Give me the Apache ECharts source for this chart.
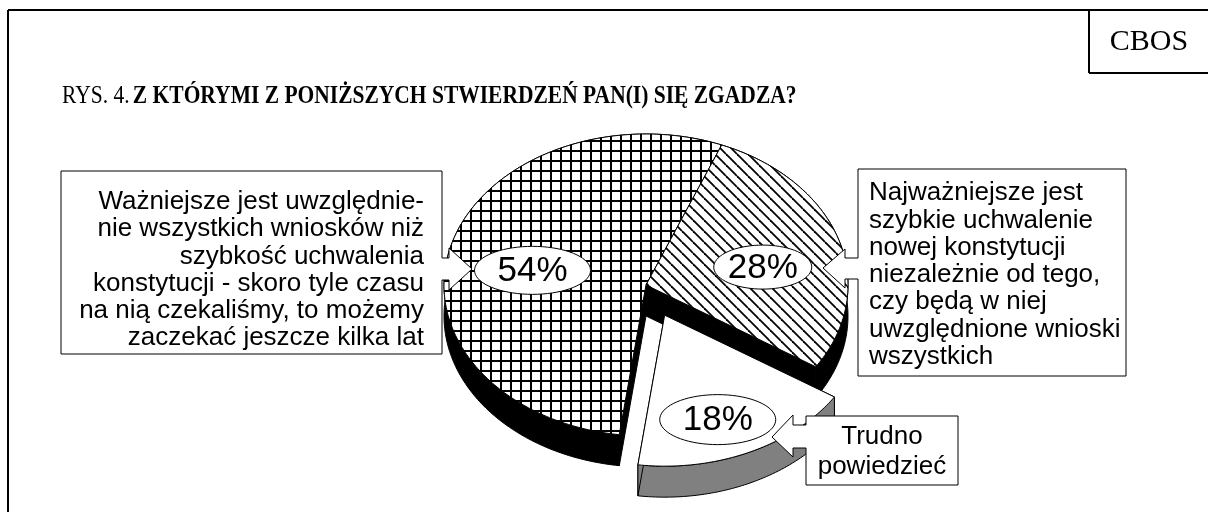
<!DOCTYPE html>
<html>
<head>
<meta charset="utf-8">
<script src="https://cdn.jsdelivr.net/npm/echarts@6/dist/echarts.min.js"></script>
<style>
  html, body { margin: 0; padding: 0; background: #fff; }
  #main { width: 1208px; height: 512px; }
</style>
</head>
<body>
<div id="main"></div>
<script>
// dane wykresu
const categories = [
    'Ważniejsze jest uwzględnie-\nnie wszystkich wniosków niż\nszybkość uchwalenia\nkonstytucji - skoro tyle czasu\nna nią czekaliśmy, to możemy\nzaczekać jeszcze kilka lat',
    'Najważniejsze jest\nszybkie uchwalenie\nnowej konstytucji\nniezależnie od tego,\nczy będą w niej\nuwzględnione wnioski\nwszystkich',
    'Trudno\npowiedzieć'
];
const values = [54, 28, 18];
const valueLabels = ['54%', '28%', '18%'];
const titlePrefix = 'RYS. 4.';
const titleText = 'Z KTÓRYMI Z PONIŻSZYCH STWIERDZEŃ PAN(I) SIĘ ZGADZA?';
const sourceText = 'CBOS';

// geometria tortu 3D (elipsa + grubość)
const pie = { cx: 646, cy: 285, rx: 202, ry: 151, depth: 31, startAngle: -172.4 };

// wygląd wycinków
const sliceStyle = [
    { top: 'grid', side: '#000', explode: 0, labelR: 0.57, labelShift: -5, lrx: 58, lry: 24 },
    { top: 'hatch', side: '#000', explode: 0, labelR: 0.59, labelShift: 6, lrx: 49, lry: 22 },
    { top: '#fff', side: '#808080', explode: 0.22, labelR: 0.74, labelShift: 4, lrx: 58, lry: 25 }
];

const SANS = '"Liberation Sans", Arial, sans-serif';
const SERIF = '"Liberation Serif", "Times New Roman", serif';
const BOX_FONT = '26px ' + SANS;

// wzory wypełnienia (kratka i ukośne linie)
function makePattern(kind) {
    const c = document.createElement('canvas');
    const ctx = c.getContext('2d');
    if (kind === 'grid') {
        c.width = 10; c.height = 10;
        ctx.fillStyle = '#fff'; ctx.fillRect(0, 0, 10, 10);
        ctx.fillStyle = '#000';
        ctx.fillRect(0, 0, 10, 2);
        ctx.fillRect(0, 0, 2, 10);
    } else {
        const s = 11;
        c.width = s; c.height = s;
        ctx.fillStyle = '#fff'; ctx.fillRect(0, 0, s, s);
        ctx.strokeStyle = '#000'; ctx.lineWidth = 1.8;
        for (let k = -1; k <= 1; k++) {
            ctx.beginPath();
            ctx.moveTo(0, k * s);
            ctx.lineTo(s, s + k * s);
            ctx.stroke();
        }
    }
    return { image: c, repeat: 'repeat' };
}
const patterns = { grid: makePattern('grid'), hatch: makePattern('hatch') };

const rad = d => d * Math.PI / 180;

function renderItem(params, api) {
    const i = params.dataIndex;
    const st = sliceStyle[i];
    const total = values.reduce((s, v) => s + v, 0);
    let acc = 0;
    for (let k = 0; k < i; k++) acc += values[k];
    const a0 = pie.startAngle + acc / total * 360;
    const a1 = a0 + api.value(0) / total * 360;
    const mid = (a0 + a1) / 2;
    const ox = st.explode * pie.rx * Math.sin(rad(mid));
    const oy = -st.explode * pie.ry * Math.cos(rad(mid));
    const pt = (t, r, dy) => [
        pie.cx + ox + r * pie.rx * Math.sin(rad(t)),
        pie.cy + oy - r * pie.ry * Math.cos(rad(t)) + (dy || 0)
    ];
    const arc = (dy) => {
        const pts = [];
        const n = Math.max(2, Math.ceil(a1 - a0));
        for (let j = 0; j <= n; j++) pts.push(pt(a0 + (a1 - a0) * j / n, 1, dy));
        return pts;
    };
    const zBase = st.explode ? 2 : 0;
    const c0 = pt(0, 0), c1 = pt(0, 0, pie.depth);
    const sideStyle = { fill: st.side, stroke: '#000', lineWidth: 1 };
    const children = [];
    // ściana zewnętrzna
    children.push({
        type: 'polygon', z2: 1 + zBase,
        shape: { points: arc(0).concat(arc(pie.depth).reverse()) },
        style: sideStyle
    });
    // ściany promieniowe
    [a0, a1].forEach(t => {
        children.push({
            type: 'polygon', z2: 1 + zBase,
            shape: { points: [c0, pt(t, 1), pt(t, 1, pie.depth), c1] },
            style: sideStyle
        });
    });
    // wierzch
    children.push({
        type: 'polygon', z2: 3 + zBase,
        shape: { points: [c0].concat(arc(0)) },
        style: { fill: patterns[st.top] || st.top, stroke: '#000', lineWidth: 1 }
    });
    // etykieta w elipsie
    const lp = pt(mid + st.labelShift, st.labelR);
    const ell = [];
    for (let j = 0; j < 72; j++) {
        const t = j / 72 * Math.PI * 2;
        ell.push([lp[0] + st.lrx * Math.cos(t), lp[1] + st.lry * Math.sin(t)]);
    }
    children.push({
        type: 'polygon', z2: 10,
        shape: { points: ell },
        style: { fill: '#fff', stroke: '#000', lineWidth: 1 }
    });
    children.push({
        type: 'text', z2: 11, x: lp[0], y: lp[1] + 1,
        style: {
            text: valueLabels[i], font: '35px ' + SANS, fill: '#000',
            align: 'center', verticalAlign: 'middle'
        }
    });
    return { type: 'group', children: children };
}

// strzałki od ramek do etykiet
function arrow(pts, edgeX) {
    const fillPts = pts.map(p => p.slice());
    fillPts[0][0] = edgeX + (pts[1][0] > edgeX ? -2 : 2);
    fillPts[fillPts.length - 1][0] = fillPts[0][0];
    return [
        { type: 'polygon', z: 50, shape: { points: fillPts }, style: { fill: '#fff' } },
        { type: 'polyline', z: 51, shape: { points: pts }, style: { stroke: '#000', lineWidth: 1, fill: null } }
    ];
}

const boxStyle = { fill: '#fff', stroke: '#000', lineWidth: 1 };
const graphics = [
    // ramka zewnętrzna
    { type: 'line', z: 40, shape: { x1: 8, y1: 10, x2: 1208, y2: 10 }, style: { stroke: '#000', lineWidth: 2 } },
    { type: 'line', z: 40, shape: { x1: 8, y1: 10, x2: 8, y2: 512 }, style: { stroke: '#000', lineWidth: 2 } },
    { type: 'line', z: 40, shape: { x1: 1089, y1: 10, x2: 1089, y2: 73 }, style: { stroke: '#000', lineWidth: 2 } },
    { type: 'line', z: 40, shape: { x1: 1089, y1: 73, x2: 1208, y2: 73 }, style: { stroke: '#000', lineWidth: 2 } },
    {
        type: 'text', z: 40, x: 1149, y: 42,
        style: { text: sourceText, font: '30px ' + SERIF, fill: '#000', align: 'center', verticalAlign: 'middle' }
    },
    {
        type: 'text', z: 40, x: 62, y: 96, scaleY: 1.2,
        style: {
            text: '{a|' + titlePrefix + '} {b|' + titleText + '}',
            verticalAlign: 'middle',
            rich: {
                a: { font: '21.5px ' + SERIF, fill: '#000' },
                b: { font: 'bold 21.5px ' + SERIF, fill: '#000' }
            }
        }
    },
    // lewa ramka
    { type: 'rect', z: 45, shape: { x: 61, y: 171, width: 381, height: 183 }, style: boxStyle },
    {
        type: 'text', z: 46, x: 424, y: 270,
        style: { text: categories[0], font: BOX_FONT, lineHeight: 27.3, fill: '#000', align: 'right', verticalAlign: 'middle' }
    },
    // prawa ramka
    { type: 'rect', z: 45, shape: { x: 858, y: 169, width: 268, height: 207 }, style: boxStyle },
    {
        type: 'text', z: 46, x: 869, y: 275,
        style: { text: categories[1], font: BOX_FONT, lineHeight: 27.3, fill: '#000', align: 'left', verticalAlign: 'middle' }
    },
    // trudno powiedzieć
    { type: 'rect', z: 45, shape: { x: 806, y: 416, width: 152, height: 69 }, style: boxStyle },
    {
        type: 'text', z: 46, x: 882, y: 452,
        style: { text: categories[2], font: BOX_FONT, lineHeight: 30, fill: '#000', align: 'center', verticalAlign: 'middle' }
    }
].concat(
    arrow([[442, 258], [449, 258], [449, 248], [472, 269], [449, 290], [449, 280], [442, 280]], 442),
    arrow([[858, 258], [845, 258], [845, 249], [823, 268], [845, 288], [845, 279], [858, 279]], 858),
    arrow([[806, 425], [793, 425], [793, 415], [772, 437], [793, 457], [793, 448], [806, 448]], 806)
);

const chart = echarts.init(document.getElementById('main'));
chart.setOption({
    backgroundColor: '#fff',
    animation: false,
    series: [{
        type: 'custom',
        coordinateSystem: 'none',
        renderItem: renderItem,
        data: values.map((v, i) => ({ name: categories[i], value: [v] }))
    }],
    graphic: { elements: graphics }
});
window.addEventListener('resize', () => chart.resize());
</script>
</body>
</html>
